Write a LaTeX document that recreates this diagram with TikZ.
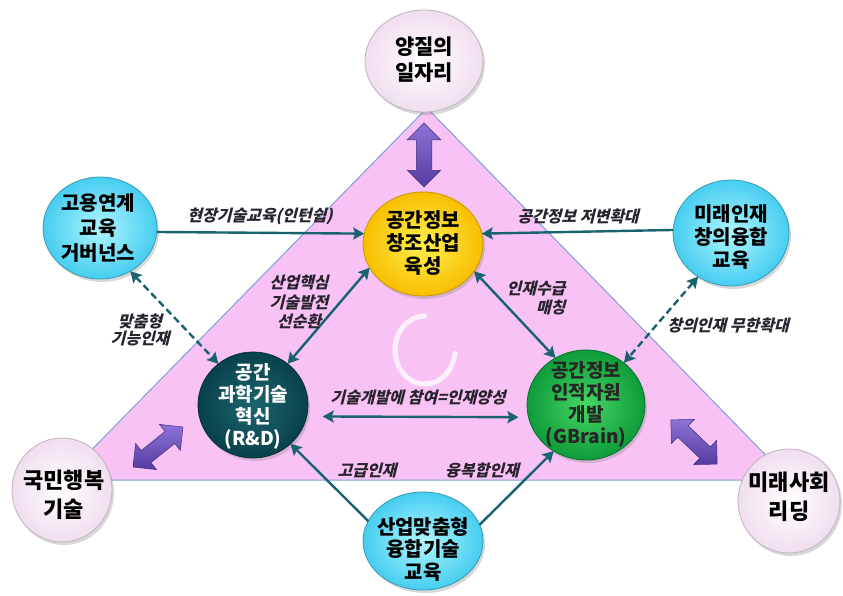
\documentclass[tikz,border=0pt]{standalone}
\usepackage{fontspec}
\setmainfont{Noto Sans CJK KR}
\newfontfamily\labfont{Noto Sans CJK KR}[FakeSlant=0.25]
\usetikzlibrary{shapes.geometric,shapes.arrows,arrows.meta,shadows}
\definecolor{tripink}{RGB}{248,194,245}
\definecolor{triedge}{RGB}{125,160,215}
\definecolor{cyanin}{RGB}{175,246,255}
\definecolor{cyanout}{RGB}{70,205,240}
\definecolor{yelin}{RGB}{255,240,80}
\definecolor{yelout}{RGB}{248,190,0}
\definecolor{tealin}{RGB}{30,100,110}
\definecolor{tealout}{RGB}{8,66,76}
\definecolor{grnin}{RGB}{70,215,100}
\definecolor{grnout}{RGB}{14,155,58}
\definecolor{whin}{RGB}{255,255,255}
\definecolor{whout}{RGB}{240,222,238}
\definecolor{conncol}{RGB}{25,98,112}
\definecolor{purpin}{RGB}{140,115,215}
\definecolor{purpout}{RGB}{85,60,160}
\definecolor{labcol}{RGB}{40,35,45}
\begin{document}
\begin{tikzpicture}[x=1pt,y=-1pt,
  ball/.style={ellipse, inner sep=0pt, outer sep=0pt, line width=0.8pt,
    drop shadow={opacity=0.3, shadow xshift=2pt, shadow yshift=-3pt}},
  cyanball/.style={ball, draw=cyanout!75!black, inner color=cyanin, outer color=cyanout},
  yelball/.style={ball, draw=yelout!80!black, inner color=yelin, outer color=yelout},
  tealball/.style={ball, draw=tealout!70!black, inner color=tealin, outer color=tealout},
  grnball/.style={ball, draw=grnout!75!black, inner color=grnin, outer color=grnout},
  whball/.style={ball, draw=whout!80!black, inner color=whin, outer color=whout},
  btext/.style={align=center, inner sep=0pt, font=\bfseries\fontsize{20}{24}\selectfont},
  wtext/.style={align=center, inner sep=0pt, font=\bfseries\fontsize{22}{29}\selectfont},
  lab/.style={align=center, inner sep=0pt, text=labcol, font=\labfont\bfseries\fontsize{16}{19}\selectfont},
  conline/.style={draw=conncol, line width=2.4pt},
  one/.style={conline, arrows={-Stealth[length=11pt,width=12pt,inset=2pt]}},
  both/.style={conline, arrows={Stealth[length=11pt,width=12pt,inset=2pt]-Stealth[length=11pt,width=12pt,inset=2pt]}},
  dash7/.style={dash pattern=on 7pt off 4pt},
  parrow/.style={double arrow, inner xsep=0pt, inner ysep=7.5pt, double arrow head extend=9pt,
    minimum height=64pt, draw=purpout!80!black, line width=0.5pt,
    top color=purpin, bottom color=purpout}
]
\useasboundingbox (0,0) rectangle (843,595);
\fill[white] (0,0) rectangle (843,595);

% triangle
\filldraw[fill=tripink, draw=triedge, line width=1pt] (427,108) -- (62,480) -- (790,480) -- cycle;

% loading ring
\draw[white, opacity=0.75, line width=5pt, line cap=round]
  (425,316) arc[start angle=-90, end angle=-355, x radius=30, y radius=34];

% purple double arrows
\node[parrow, rotate=90] (pv) at (424,155) {};
\node[parrow, rotate=38.7] (pl) at (158,447) {};
\node[parrow, rotate=-43.6] (pr) at (694,442) {};

% circles
\node[whball, minimum width=118pt, minimum height=102pt] (job) at (424,61) {};
\node[wtext, font=\bfseries\fontsize{21}{26}\selectfont] (jobT) at (424,60) {양질의\\일자리};

\node[yelball, minimum width=120pt, minimum height=104pt] (ind) at (423,244) {};
\node[btext, font=\bfseries\fontsize{20}{23}\selectfont] (indT) at (423,243) {공간정보\\창조산업\\육성};

\node[cyanball, minimum width=114pt, minimum height=102pt] (gov) at (100,228) {};
\node[btext, font=\bfseries\fontsize{20}{25}\selectfont] (govT) at (98,228) {고용연계\\교육\\거버넌스};

\node[cyanball, minimum width=116pt, minimum height=106pt] (fut) at (731,233) {};
\node[btext, font=\bfseries\fontsize{20}{23}\selectfont] (futT) at (731,237) {미래인재\\창의융합\\교육};

\node[tealball, minimum width=110pt, minimum height=106pt] (rd) at (253,405) {};
\node[btext, text=white, font=\bfseries\fontsize{19}{22}\selectfont] (rdT) at (253,406) {공간\\과학기술\\혁신\\(R\&D)};

\node[grnball, minimum width=118pt, minimum height=110pt] (gb) at (586,405) {};
\node[btext, text=black!85, font=\bfseries\fontsize{19}{22}\selectfont] (gbT) at (586,404) {공간정보\\인적자원\\개발\\(GBrain)};

\node[cyanball, minimum width=120pt, minimum height=98pt] (edu) at (423,541) {};
\node[btext, font=\bfseries\fontsize{20}{22.5}\selectfont] (eduT) at (423,549) {산업맞춤형\\융합기술\\교육};

\node[whball, minimum width=100pt, minimum height=104pt] (hap) at (62,490) {};
\node[wtext] (hapT) at (64,495) {국민행복\\기술};

\node[whball, minimum width=102pt, minimum height=104pt] (lead) at (789,501) {};
\node[wtext] (leadT) at (789,497) {미래사회\\리딩};

% connectors
\draw[one] (gov.-4) -- (ind.170);
\draw[one] (fut.177) -- (ind.10);
\draw[both] (rd.50) -- (ind.204);
\draw[both] (ind.-28) -- (gb.123);
\draw[both, dash7] (gov.-55) -- (rd.130);
\draw[both, dash7] (fut.233) -- (gb.48);
\draw[both, shorten <=16pt, shorten >=10pt] (rd.-12) -- (gb.192);
\draw[one] (edu.160) -- (rd.-46);
\draw[one] (edu.16) -- (gb.235);

% labels
\node[lab] (l1) at (260,216) {현장기술교육(인턴쉽)};
\node[lab] (l2) at (578,216) {공간정보 저변확대};
\node[lab, font=\labfont\bfseries\fontsize{16}{19.5}\selectfont] (l3) at (299,302) {산업핵심\\기술발전\\선순환};
\node[lab, font=\labfont\bfseries\fontsize{16}{17}\selectfont] (l4) at (140,330) {맞춤형\\기능인재};
\node[lab, align=right, font=\labfont\bfseries\fontsize{16}{19}\selectfont] (l5) at (536,298) {인재수급\\매칭};
\node[lab] (l6) at (728,325) {창의인재 무한확대};
\node[lab] (l7) at (418,397) {기술개발에 참여=인재양성};
\node[lab] (l8) at (367,470) {고급인재};
\node[lab] (l9) at (482,470) {융복합인재};
\end{tikzpicture}
\end{document}
